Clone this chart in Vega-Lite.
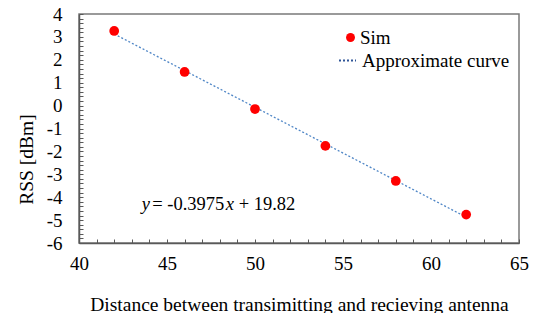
{
  "$schema": "https://vega.github.io/schema/vega-lite/v6.json",
  "width": 440,
  "height": 229,
  "autosize": "none",
  "padding": {"left": 79, "top": 14, "right": 19, "bottom": 70},
  "background": "white",
  "config": {
    "font": "Liberation Serif",
    "view": {"stroke": "#7a7a7a", "strokeWidth": 1.5},
    "legend": {"labelFont": "Liberation Serif", "labelFontSize": 19, "labelColor": "black"},
    "text": {"font": "Liberation Serif"}
  },
  "datasets": {
    "sim": [
      {"x": 42, "y": 3.26},
      {"x": 46, "y": 1.47},
      {"x": 50, "y": -0.15},
      {"x": 54, "y": -1.76},
      {"x": 58, "y": -3.29},
      {"x": 62, "y": -4.76}
    ],
    "note": [{"x": 43.56, "y": -4.56}]
  },
  "encoding": {
    "x": {
      "field": "x", "type": "quantitative",
      "scale": {"domain": [40, 65], "nice": false, "zero": false},
      "axis": {
        "title": "Distance between transimitting and recieving antenna",
        "values": [40,41,42,43,44,45,46,47,48,49,50,51,52,53,54,55,56,57,58,59,60,61,62,63,64,65],
        "labelExpr": "datum.value % 5 === 0 ? '' + datum.value : ''",
        "grid": false,
        "labelOverlap": false,
        "labelFlush": false,
        "domainColor": "#595959",
        "domainWidth": 1.5,
        "tickColor": "#595959",
        "tickWidth": 1,
        "tickSize": -4,
        "labelFont": "Liberation Serif",
        "labelFontSize": 19,
        "labelColor": "black",
        "labelPadding": 15,
        "labelBaseline": "top",
        "titleFont": "Liberation Serif",
        "titleFontSize": 19.5,
        "titleFontWeight": "normal",
        "titleColor": "black",
        "titleBaseline": "alphabetic",
        "titleY": 67
      }
    },
    "y": {
      "field": "y", "type": "quantitative",
      "scale": {"domain": [-6, 4], "nice": false, "zero": false},
      "axis": {
        "title": "RSS [dBm]",
        "values": [-6,-5.8,-5.6,-5.4,-5.2,-5,-4.8,-4.6,-4.4,-4.2,-4,-3.8,-3.6,-3.4,-3.2,-3,-2.8,-2.6,-2.4,-2.2,-2,-1.8,-1.6,-1.4,-1.2,-1,-0.8,-0.6,-0.4,-0.2,0,0.2,0.4,0.6,0.8,1,1.2,1.4,1.6,1.8,2,2.2,2.4,2.6,2.8,3,3.2,3.4,3.6,3.8,4],
        "labelExpr": "abs(datum.value - round(datum.value)) < 0.01 ? '' + round(datum.value) : ''",
        "grid": false,
        "labelOverlap": false,
        "labelFlush": false,
        "domainColor": "#595959",
        "domainWidth": 1.5,
        "tickColor": "#595959",
        "tickWidth": 1,
        "tickSize": -4,
        "labelFont": "Liberation Serif",
        "labelFontSize": 19,
        "labelColor": "black",
        "labelPadding": 21,
        "titleFont": "Liberation Serif",
        "titleFontSize": 19.5,
        "titleFontWeight": "normal",
        "titleColor": "black",
        "titleAngle": 270,
        "titleX": -53,
        "titleY": 145,
        "titleAnchor": null,
        "titleAlign": "center",
        "titleBaseline": "middle"
      }
    }
  },
  "layer": [
    {
      "data": {"name": "sim"},
      "transform": [{"regression": "y", "on": "x", "extent": [42, 62]}],
      "mark": {"type": "line", "strokeWidth": 1.3, "color": "#4f86c6"},
      "encoding": {
        "strokeDash": {
          "datum": "Approximate curve",
          "scale": {"domain": ["Approximate curve"], "range": [[2, 2]]},
          "legend": {
            "title": null,
            "orient": "none",
            "legendX": 259,
            "legendY": 37,
            "padding": 0,
            "symbolSize": 289,
            "symbolType": "stroke",
            "symbolStrokeColor": "#2f5597",
            "symbolStrokeWidth": 2,
            "labelOffset": 5
          }
        }
      }
    },
    {
      "data": {"name": "sim"},
      "mark": {"type": "point", "filled": true, "size": 95, "opacity": 1},
      "encoding": {
        "color": {
          "datum": "Sim",
          "scale": {"domain": ["Sim"], "range": ["#ff0000"]},
          "legend": {
            "title": null,
            "orient": "none",
            "legendX": 262,
            "legendY": 14,
            "padding": 0,
            "symbolSize": 80,
            "symbolType": "circle",
            "labelOffset": 0
          }
        }
      }
    },
    {
      "data": {"name": "note"},
      "mark": {"type": "text", "align": "left", "baseline": "alphabetic", "fontSize": 18.5, "fontStyle": "italic", "font": "Liberation Serif", "color": "black"},
      "encoding": {"text": {"value": "y"}}
    },
    {
      "data": {"name": "note"},
      "mark": {"type": "text", "align": "left", "baseline": "alphabetic", "fontSize": 18.5, "font": "Liberation Serif", "color": "black", "dx": 10.5},
      "encoding": {"text": {"value": "= -0.3975"}}
    },
    {
      "data": {"name": "note"},
      "mark": {"type": "text", "align": "left", "baseline": "alphabetic", "fontSize": 18.5, "fontStyle": "italic", "font": "Liberation Serif", "color": "black", "dx": 84},
      "encoding": {"text": {"value": "x"}}
    },
    {
      "data": {"name": "note"},
      "mark": {"type": "text", "align": "left", "baseline": "alphabetic", "fontSize": 18.5, "font": "Liberation Serif", "color": "black", "dx": 97},
      "encoding": {"text": {"value": "+ 19.82"}}
    }
  ]
}
